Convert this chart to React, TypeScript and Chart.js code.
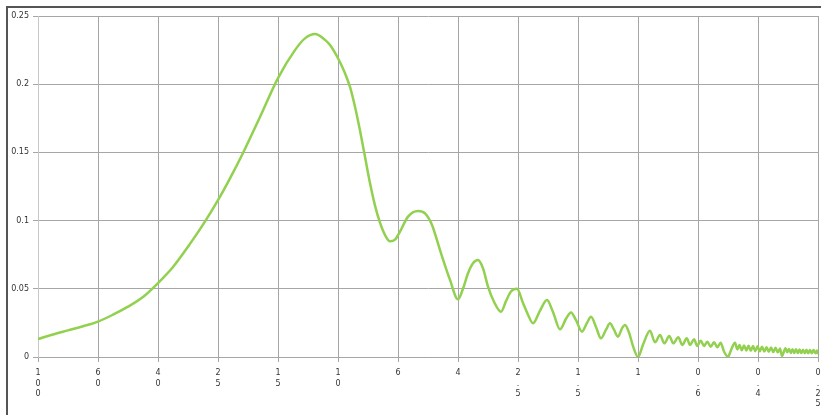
import React, { useEffect, useRef } from "react";
import { Chart, registerables } from "chart.js";

Chart.register(...registerables);

const xLabels = ["100", "60", "40", "25", "15", "10", "6", "4", "2.5", "1.5", "1", "0.6", "0.4", "0.25"];

const xPos = [
  0, 0.25, 0.5, 0.75, 1, 1.25, 1.5, 1.75, 2, 2.25, 2.5, 2.75, 3, 3.2, 3.417, 3.7, 4, 4.283, 4.45, 4.617,
  4.783, 4.867, 5, 5.117, 5.2, 5.283, 5.367, 5.45, 5.533, 5.617, 5.7, 5.783, 5.867, 5.95, 6.033, 6.167,
  6.333, 6.45, 6.567, 6.7, 6.867, 7, 7.083, 7.167, 7.25, 7.333, 7.417, 7.5, 7.6, 7.717, 7.8, 7.883, 7.983,
  8.083, 8.167, 8.25, 8.367, 8.483, 8.583, 8.7, 8.8, 8.883, 8.967, 9.067, 9.15, 9.217, 9.3, 9.383, 9.467,
  9.533, 9.6, 9.667, 9.733, 9.783, 9.85, 9.917, 10, 10.083, 10.2, 10.283, 10.367, 10.438, 10.522, 10.588,
  10.672, 10.738, 10.812, 10.867, 10.933, 10.988, 11.045, 11.1, 11.155, 11.212, 11.267, 11.322, 11.378,
  11.433, 11.5, 11.55, 11.617, 11.655, 11.692, 11.73, 11.767, 11.805, 11.842, 11.88, 11.917, 11.955, 11.992,
  12.03, 12.067, 12.105, 12.142, 12.18, 12.217, 12.255, 12.292, 12.33, 12.367, 12.4, 12.458, 12.488, 12.517,
  12.547, 12.575, 12.605, 12.633, 12.663, 12.692, 12.722, 12.75, 12.78, 12.808, 12.838, 12.867, 12.897,
  12.925, 12.955, 12.983, 13,
];

const yVals = [
  0.0132, 0.0165, 0.0195, 0.0225, 0.0259, 0.031, 0.0369, 0.044, 0.0542, 0.066, 0.0809, 0.097, 0.115, 0.131,
  0.1496, 0.176, 0.2045, 0.225, 0.2336, 0.2368, 0.2325, 0.2287, 0.219, 0.208, 0.198, 0.1835, 0.166, 0.1468,
  0.1275, 0.111, 0.0985, 0.0895, 0.0848, 0.086, 0.0919, 0.1029, 0.107, 0.1053, 0.0968, 0.0784, 0.0565, 0.0423,
  0.05, 0.0614, 0.0687, 0.0711, 0.065, 0.0516, 0.0405, 0.0332, 0.041, 0.048, 0.0501, 0.0396, 0.031, 0.0247,
  0.034, 0.0418, 0.033, 0.0203, 0.028, 0.0327, 0.027, 0.0186, 0.025, 0.0296, 0.022, 0.0137, 0.02, 0.0247,
  0.02, 0.0149, 0.021, 0.0235, 0.018, 0.008, 0.0, 0.009, 0.0193, 0.0108, 0.0161, 0.01, 0.0154, 0.01, 0.0144,
  0.0088, 0.0137, 0.0088, 0.013, 0.0081, 0.012, 0.0081, 0.0112, 0.0076, 0.0108, 0.0071, 0.0105, 0.004,
  0.0002, 0.005, 0.0105, 0.0055, 0.0088, 0.005, 0.0085, 0.0048, 0.0082, 0.0045, 0.008, 0.0043, 0.0078,
  0.0042, 0.0076, 0.004, 0.0072, 0.0038, 0.007, 0.0036, 0.0068, 0.0034, 0.0062, 0.0008, 0.0064, 0.0035,
  0.0058, 0.003, 0.0057, 0.003, 0.0056, 0.0029, 0.0055, 0.0029, 0.0054, 0.0028, 0.0053, 0.0028, 0.0052,
  0.0027, 0.0051, 0.0027, 0.0048, 0.002,
];

const frame = {
  id: "frame",
  beforeDraw(chart: any) {
    const ctx = chart.ctx;
    ctx.save();
    ctx.fillStyle = "#ffffff";
    ctx.fillRect(0, 0, chart.width, chart.height);
    ctx.strokeStyle = "#555555";
    ctx.lineWidth = 2;
    ctx.beginPath();
    ctx.moveTo(7, chart.height);
    ctx.lineTo(7, 7);
    ctx.lineTo(chart.width, 7);
    ctx.stroke();
    ctx.restore();
  },
};

export default function App() {
  const ref = useRef<HTMLCanvasElement>(null);
  useEffect(() => {
    if (!ref.current) return;
    const chart = new Chart(ref.current, {
      type: "line",
      data: {
        datasets: [
          {
            data: xPos.map((x, i) => ({ x, y: yVals[i] })),
            borderColor: "#92d050",
            borderWidth: 2.5,
            pointRadius: 0,
            cubicInterpolationMode: "monotone",
            fill: false,
          },
        ],
      },
      options: {
        animation: false,
        responsive: false,
        devicePixelRatio: 1,
        layout: { padding: { left: 8, top: 16, right: 3, bottom: 0 } },
        plugins: { legend: { display: false }, tooltip: { enabled: false } },
        scales: {
          x: {
            type: "linear",
            min: 0,
            max: 13,
            afterFit: (s: any) => {
              s.height = 58;
              s.paddingRight = 0;
              s.paddingLeft = 0;
            },
            grid: { color: "#a6a6a6", lineWidth: 1, tickLength: 5 },
            border: { color: "#a6a6a6" },
            ticks: {
              stepSize: 1,
              autoSkip: false,
              maxRotation: 0,
              minRotation: 0,
              padding: 6,
              color: "#333333",
              font: { family: "DejaVu Sans", size: 8, lineHeight: 1.3 },
              callback: (v: any) => {
                const l = xLabels[Math.round(Number(v))];
                return l ? l.split("") : "";
              },
            },
          },
          y: {
            min: 0,
            max: 0.25,
            afterFit: (s: any) => {
              s.width = 30;
            },
            grid: { color: "#a6a6a6", lineWidth: 1, tickLength: 5 },
            border: { color: "#c8c8c8" },
            ticks: {
              stepSize: 0.05,
              padding: 4,
              color: "#333333",
              font: { family: "DejaVu Sans", size: 8 },
              callback: (v: any) => String(Number(Number(v).toFixed(2))),
            },
          },
        },
      },
      plugins: [frame],
    });
    return () => chart.destroy();
  }, []);
  return (
    <div style={{ position: "fixed", left: 0, top: 0, width: 821, height: 415, background: "#fff" }}>
      <canvas ref={ref} width={821} height={415} style={{ width: 821, height: 415, display: "block" }} />
    </div>
  );
}
